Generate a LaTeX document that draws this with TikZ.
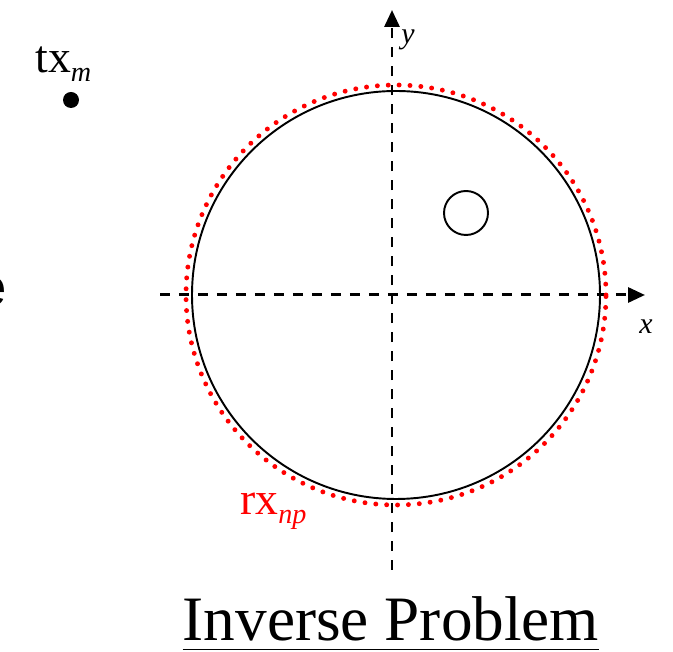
\documentclass[tikz,border=0pt]{standalone}
\usepackage{fontspec}
\setmainfont{Liberation Serif}
\newfontfamily\cutfont{Liberation Sans}
\usetikzlibrary{arrows.meta}
\newcommand{\lowidx}[1]{\raisebox{-0.18cm}{\fontsize{16}{16}\selectfont\itshape #1}}

\begin{document}
\begin{tikzpicture}[
    x=0.02cm, y=0.02cm,
    axis/.style={line width=1.7pt, dash pattern=on 0.2cm off 0.18cm, -{Triangle[length=0.34cm, width=0.3cm]}},
    ring/.style={draw, line width=1.1pt},
    probes/.style={draw=red, line width=2.8pt, line cap=round, dash pattern=on 0pt off 6.2pt},
    lbl/.style={inner sep=0pt, font=\fontsize{26}{26}\selectfont},
    axlbl/.style={inner sep=0pt, font=\fontsize{17}{17}\selectfont\itshape}
]
\useasboundingbox (0,0) rectangle (673,652);
% axes
\coordinate (xs) at (160,357);
\coordinate (xe) at (645,357);
\coordinate (ys) at (392,82);
\coordinate (ye) at (392,642);
\draw[axis] (xs) -- (xe);
\draw[axis] (ys) -- (ye);
\node[axlbl] (xlab) at (646,325) {x};
\node[axlbl] (ylab) at (408,612) {y};
% object and receivers
\draw[ring] (396,357) circle (204);
\draw[probes] (396,357) circle (210);
\draw[ring] (466,439) circle (22);
\node[lbl, anchor=base west, text=red] (rx) at (240,137) {rx\lowidx{np}};
% transmitter
\fill (71,552) circle (8);
\node[lbl, anchor=base west] (tx) at (35,579) {tx\lowidx{m}};
% cut-off letter at the left edge
\node[inner sep=0pt, anchor=east, font=\cutfont\fontsize{30}{30}\selectfont] (cut) at (7,360) {e};
% title
\node[inner sep=0pt, anchor=base, font=\fontsize{36}{36}\selectfont] (title) at (391,11) {Inverse Problem};
\draw[line width=0.7pt] ([yshift=-0.17cm]title.base west) -- ([yshift=-0.17cm]title.base east);
\end{tikzpicture}
\end{document}
